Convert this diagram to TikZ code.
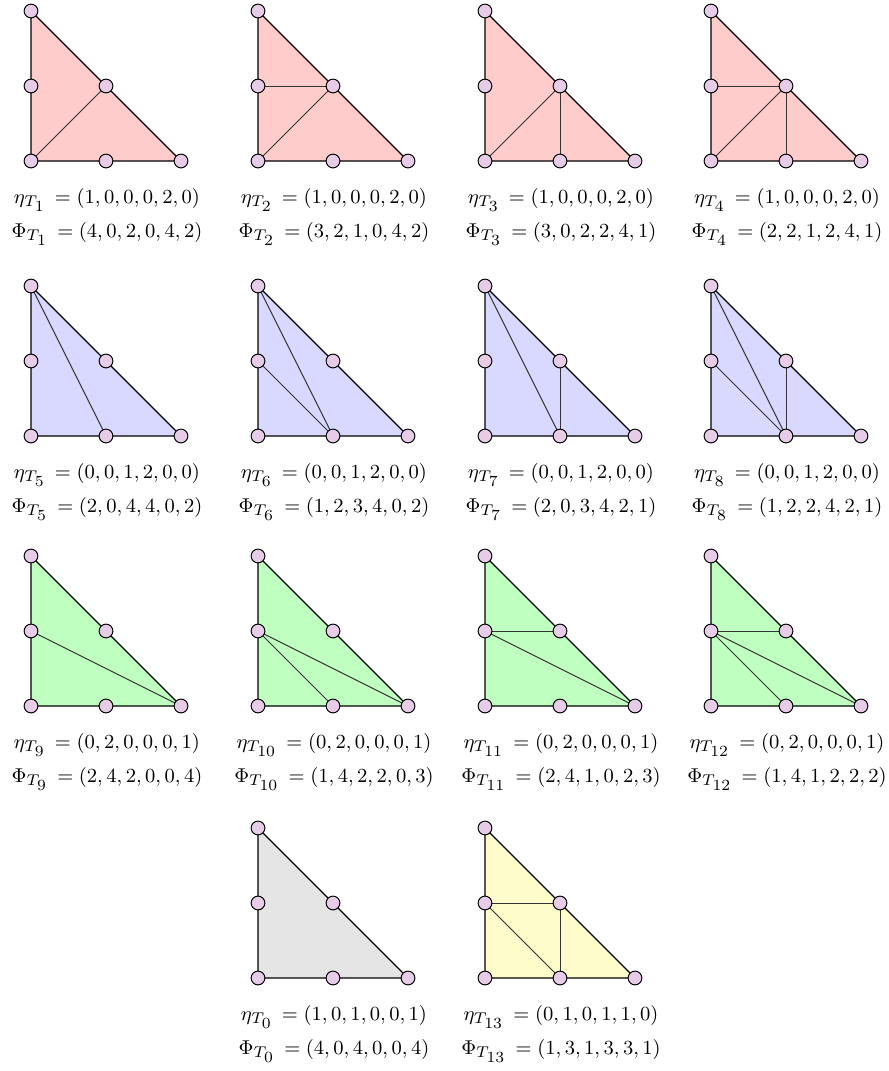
\documentclass[tikz,border=0pt]{standalone}
\definecolor{vert}{RGB}{230,204,230}
\tikzset{
  px/.style={x=0.45pt,y=-0.45pt},
  edge/.style={draw=black,line width=0.6pt,line join=round},
  inner/.style={draw=black!80,line width=0.45pt},
  vtx/.style={circle,draw=black,fill=vert,line width=0.45pt,inner sep=0pt,minimum size=6.2pt},
  lab/.style={anchor=base,inner sep=0pt,font=\fontsize{9.5}{11}\selectfont}
}
% #1 x, #2 y, #3 name, #4 fill, #5 inner lines, #6 subscript, #7 eta, #8 phi
\newcommand{\mytri}[8]{%
  \coordinate (#3a) at (#1,#2);
  \coordinate (#3b) at (#1,#2+150);
  \coordinate (#3c) at (#1+150,#2+150);
  \coordinate (#3l) at (#1,#2+75);
  \coordinate (#3h) at (#1+75,#2+75);
  \coordinate (#3m) at (#1+75,#2+150);
  \fill[#4] (#3a) -- (#3b) -- (#3c) -- cycle;
  \foreach \p/\q in {#5} {\draw[inner] (#3\p) -- (#3\q);}
  \draw[edge] (#3a) -- (#3b) -- (#3c) -- cycle;
  \foreach \v in {a,b,c,l,h,m} {\node[vtx] (#3v\v) at (#3\v) {};}
  \node[lab] (#3eta) at (#1+76,#2+192) {$\eta_{T_{\scriptstyle #6}}\,= (#7)$};
  \node[lab] (#3phi) at (#1+76,#2+226) {$\Phi_{T_{\scriptstyle #6}}\,= (#8)$};
}
\begin{document}
\begin{tikzpicture}[px]
\useasboundingbox (0,0) rectangle (889,1071);
\mytri{31}{11}{A}{red!20}{b/h}{1}{1,0,0,0,2,0}{4,0,2,0,4,2}
\mytri{258}{11}{B}{red!20}{b/h,l/h}{2}{1,0,0,0,2,0}{3,2,1,0,4,2}
\mytri{485}{11}{C}{red!20}{b/h,h/m}{3}{1,0,0,0,2,0}{3,0,2,2,4,1}
\mytri{711}{11}{D}{red!20}{b/h,l/h,h/m}{4}{1,0,0,0,2,0}{2,2,1,2,4,1}
\mytri{31}{286}{E}{blue!15}{a/m}{5}{0,0,1,2,0,0}{2,0,4,4,0,2}
\mytri{258}{286}{F}{blue!15}{a/m,l/m}{6}{0,0,1,2,0,0}{1,2,3,4,0,2}
\mytri{485}{286}{G}{blue!15}{a/m,h/m}{7}{0,0,1,2,0,0}{2,0,3,4,2,1}
\mytri{711}{286}{H}{blue!15}{a/m,l/m,h/m}{8}{0,0,1,2,0,0}{1,2,2,4,2,1}
\mytri{31}{556}{I}{green!25}{l/c}{9}{0,2,0,0,0,1}{2,4,2,0,0,4}
\mytri{258}{556}{J}{green!25}{l/c,l/m}{10}{0,2,0,0,0,1}{1,4,2,2,0,3}
\mytri{485}{556}{K}{green!25}{l/c,l/h}{11}{0,2,0,0,0,1}{2,4,1,0,2,3}
\mytri{711}{556}{L}{green!25}{l/c,l/h,l/m}{12}{0,2,0,0,0,1}{1,4,1,2,2,2}
\mytri{258}{828}{M}{gray!20}{}{0}{1,0,1,0,0,1}{4,0,4,0,0,4}
\mytri{485}{828}{N}{yellow!20}{l/h,h/m,l/m}{13}{0,1,0,1,1,0}{1,3,1,3,3,1}
\end{tikzpicture}
\end{document}
